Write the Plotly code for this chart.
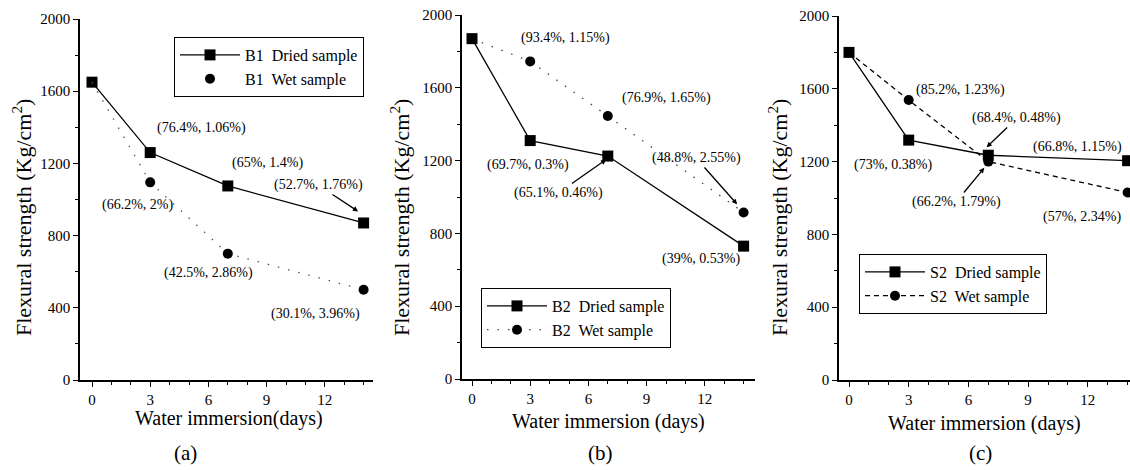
import plotly.graph_objects as go

# ---------------- data ----------------
days = [0, 3, 7, 14]

b1_dried = [1650, 1260, 1075, 870]
b1_wet = [1650, 1095, 700, 500]

b2_dried = [1870, 1310, 1225, 730]
b2_wet = [1870, 1745, 1445, 915]

s2_dried = [1800, 1318, 1235, 1205]
s2_wet = [1800, 1538, 1200, 1030]

y_ticks = [0, 400, 800, 1200, 1600, 2000]
x_ticks = [0, 3, 6, 9, 12]

# annotations: (text, x, y, arrow head or None)
notes_a = [("(76.4%, 1.06%)", 5.62, 1396, None), ("(65%, 1.4%)", 9.07, 1202, None),
           ("(52.7%, 1.76%)", 11.65, 1080, (13.76, 931)), ("(66.2%, 2%)", 2.32, 969, None),
           ("(42.5%, 2.86%)", 6.03, 593, None), ("(30.1%, 3.96%)", 11.5, 366, None)]
notes_b = [("(93.4%, 1.15%)", 4.8, 1874, None), ("(76.9%, 1.65%)", 10.05, 1544, None),
           ("(69.7%, 0.3%)", 2.9, 1176, None), ("(65.1%, 0.46%)", 4.45, 1022, (6.96, 1209)),
           ("(48.8%, 2.55%)", 11.55, 1214, (13.7, 956)), ("(39%, 0.53%)", 11.8, 659, None)]
notes_c = [("(85.2%, 1.23%)", 5.58, 1593, None), ("(68.4%, 0.48%)", 8.44, 1440, (6.88, 1275)),
           ("(66.8%, 1.15%)", 11.46, 1280, None), ("(73%, 0.38%)", 2.2, 1181, None),
           ("(66.2%, 1.79%)", 5.38, 978, (6.83, 1170)), ("(57%, 2.34%)", 11.7, 896, None)]

FONT = "Liberation Serif"
W, H = 1130, 470

fig = go.Figure()

def add_dried(y, name, xa, ya, leg):
    fig.add_trace(go.Scatter(x=days, y=y, mode="lines+markers", name=name,
                             line=dict(color="black", width=1.3),
                             marker=dict(symbol="square", size=11, color="black"),
                             xaxis=xa, yaxis=ya, legend=leg, cliponaxis=False))

SPARSE = "1.5px,9px"

# panel a
add_dried(b1_dried, "B1  Dried sample", "x", "y", "legend")
fig.add_trace(go.Scatter(x=days, y=b1_wet, mode="lines", showlegend=False,
                         line=dict(color="#555", width=1.3, dash=SPARSE),
                         xaxis="x", yaxis="y", cliponaxis=False))
fig.add_trace(go.Scatter(x=days[1:], y=b1_wet[1:], mode="markers", name="B1  Wet sample",
                         marker=dict(symbol="circle", size=10, color="black"),
                         xaxis="x", yaxis="y", legend="legend", cliponaxis=False))
# panel b
add_dried(b2_dried, "B2  Dried sample", "x2", "y2", "legend2")
fig.add_trace(go.Scatter(x=days, y=b2_wet, mode="lines+markers", name="B2  Wet sample",
                         line=dict(color="#444", width=1.3, dash=SPARSE),
                         marker=dict(symbol="circle", size=10, color="black"),
                         xaxis="x2", yaxis="y2", legend="legend2", cliponaxis=False))
# panel c
add_dried(s2_dried, "S2  Dried sample", "x3", "y3", "legend3")
fig.add_trace(go.Scatter(x=days, y=s2_wet, mode="lines+markers", name="S2  Wet sample",
                         line=dict(color="black", width=1.3, dash="5px,4px"),
                         marker=dict(symbol="circle", size=10, color="black"),
                         xaxis="x3", yaxis="y3", legend="legend3", cliponaxis=False))

# geometry (pixels)
panels = [
    # y-axis px, day0 px, px/day, right px, y0 px, y2000 px
    dict(ax=80, d0=92, ppd=19.4, right=373, yb=380, yt=19),
    dict(ax=462, d0=472, ppd=19.4, right=755, yb=379, yt=15),
    dict(ax=839, d0=849, ppd=19.9, right=1130, yb=380, yt=16),
]

axis_common = dict(showline=True, linecolor="black", linewidth=1.5, ticks="outside",
                   tickcolor="black", tickwidth=1.2, showgrid=False, zeroline=False,
                   automargin=False,
                   tickfont=dict(family=FONT, size=15, color="black"))

for i, p in enumerate(panels):
    sfx = "" if i == 0 else str(i + 1)
    xr = [(p["ax"] - p["d0"]) / p["ppd"], (p["right"] - p["d0"]) / p["ppd"]]
    fig.layout["xaxis" + sfx] = dict(
        axis_common, domain=[p["ax"] / W, min(p["right"] / W, 1.0)], range=xr,
        tickvals=x_ticks, ticklen=5, anchor="y" + sfx,
        minor=dict(dtick=1, tick0=0, ticks="outside", ticklen=3, tickcolor="black"))
    fig.layout["yaxis" + sfx] = dict(
        axis_common, domain=[(H - p["yb"]) / H, (H - p["yt"]) / H], range=[0, 2000],
        tickvals=y_ticks, ticklen=5, anchor="x" + sfx,
        minor=dict(dtick=200, tick0=0, ticks="outside", ticklen=3, tickcolor="black"))

annotations = []
def txt(text, x, y, xref, yref, size=14, **kw):
    annotations.append(dict(text=text, x=x, y=y, xref=xref, yref=yref, showarrow=False,
                            xanchor="center", yanchor="middle",
                            font=dict(family=FONT, size=size, color="black"), **kw))

for notes, sfx in [(notes_a, ""), (notes_b, "2"), (notes_c, "3")]:
    for t, x, y, head in notes:
        if head is None:
            txt(t, x, y, "x" + sfx, "y" + sfx)
        else:
            annotations.append(dict(
                text=t, x=head[0], y=head[1], ax=x, ay=y,
                xref="x" + sfx, yref="y" + sfx, axref="x" + sfx, ayref="y" + sfx,
                showarrow=True, arrowhead=2, arrowsize=0.8, arrowwidth=1.3,
                arrowcolor="black", standoff=1,
                font=dict(family=FONT, size=14, color="black")))

# axis titles and panel labels (paper coords)
xt = [(229, 418, "Water immersion(days)", "(a)", 185, 22),
      (608, 421, "Water immersion (days)", "(b)", 600, 400),
      (984, 423, "Water immersion (days)", "(c)", 980, 778)]
for cx, cy, title, lab, lx, yx in xt:
    txt(title, cx / W, (H - cy) / H, "paper", "paper", size=20)
    txt(lab, lx / W, (H - 453) / H, "paper", "paper", size=21)
    txt("Flexural strength (Kg/cm<sup>2</sup>)", yx / W, (H - 218) / H, "paper", "paper",
        size=22, textangle=-90)

leg_common = dict(bordercolor="black", borderwidth=1, bgcolor="white",
                  font=dict(family=FONT, size=16, color="black"),
                  xanchor="left", yanchor="top", tracegroupgap=0, itemwidth=60)
fig.update_layout(
    width=W, height=H, margin=dict(l=0, r=0, t=0, b=0, pad=0, autoexpand=False),
    paper_bgcolor="white", plot_bgcolor="white",
    annotations=annotations,
    legend=dict(leg_common, x=174 / W, y=(H - 37) / H),
    legend2=dict(leg_common, x=481 / W, y=(H - 288) / H),
    legend3=dict(leg_common, x=859 / W, y=(H - 254) / H),
)

fig.write_html("out.html", config={"displayModeBar": False},
               post_script="document.body.style.margin='0';document.body.style.overflow='hidden';")
